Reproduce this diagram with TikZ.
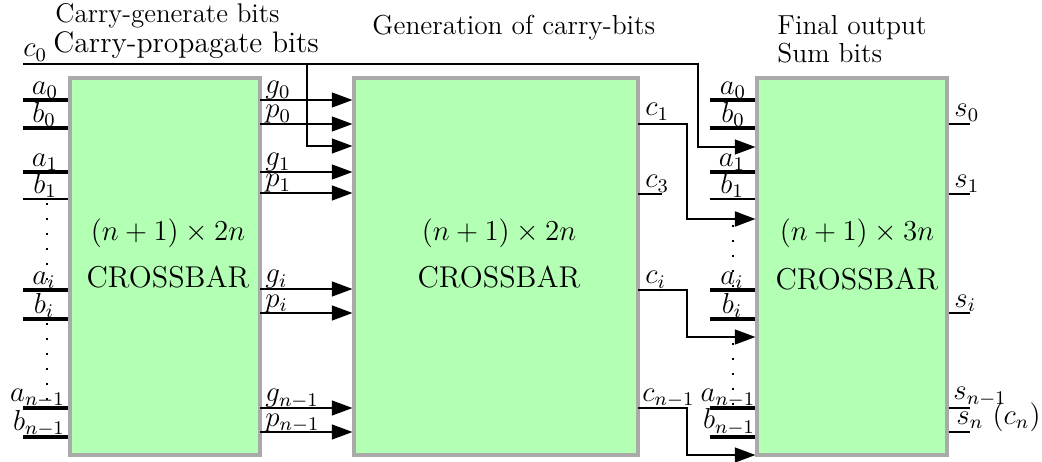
\documentclass[tikz,border=0pt]{standalone}
\usetikzlibrary{arrows.meta}
\definecolor{boxfill}{RGB}{179,255,179}
\definecolor{boxline}{RGB}{170,170,170}
\begin{document}
\begin{tikzpicture}[x=0.415pt,y=-0.415pt,
  xbar/.style={draw=boxline, fill=boxfill, line width=1.3pt, inner sep=0pt, minimum height=156.46pt},
  lab/.style={anchor=base, inner sep=0pt, font=\fontsize{11.8}{13}\selectfont},
  labl/.style={anchor=base west, inner sep=0pt, font=\fontsize{11.8}{13}\selectfont},
  title/.style={anchor=base west, inner sep=0pt, font=\fontsize{11.4}{13}\selectfont},
  mid/.style={anchor=base, inner sep=0pt, font=\fontsize{12.5}{14}\selectfont},
  arr/.style={line width=0.5pt, -{Triangle[length=8.5pt,width=6.2pt]}},
  dots/.style={line width=0.9pt, dash pattern=on 0.9pt off 5.3pt},
  outwire/.style={line width=0.85pt}]
\useasboundingbox (0,0) rectangle (1042,462);
% boxes
\node[xbar, minimum width=78.85pt] (B1) at (165,266.5) {};
\node[xbar, minimum width=117.86pt] (B2) at (496,266.5) {};
\node[xbar, minimum width=78.85pt] (B3) at (852,266.5) {};
% titles
\node[title, font=\fontsize{11.2}{13}\selectfont] (tgen) at (55,23) {Carry-generate bits};
\node[title, font=\fontsize{12.3}{14}\selectfont] (tprop) at (53,53) {Carry-propagate bits};
\node[labl] (lc0) at (23,57) {$c_0$};
\node[title] (tcar) at (372,35) {Generation of carry-bits};
\node[title] (tfin) at (777,35) {Final output};
\node[title] (tsum) at (777,63) {Sum bits};
% centre texts
\node[mid] (m1a) at (168,240) {$(n+1)\times 2n$};
\node[mid] (m1b) at (168,287) {CROSSBAR};
\node[mid] (m2a) at (499,240) {$(n+1)\times 2n$};
\node[mid] (m2b) at (499,287) {CROSSBAR};
\node[mid] (m3a) at (857,241) {$(n+1)\times 3n$};
\node[mid] (m3b) at (857,290) {CROSSBAR};
% left inputs
\foreach \n/\y/\w in {a0/100/1.45, b0/128/1.45, a1/172/1.45, b1/199/1.0, ai/290/1.45, bi/319/1.45, an/408/1.45, bn/437/1.45}{
  \coordinate (L\n) at (23,\y);
  \draw[line width=\w pt] (L\n) -- (L\n -| B1.west);
}
\node[lab] (la0) at (45,94.5) {$a_0$};
\node[lab] (lb0) at (44,122.5) {$b_0$};
\node[lab] (la1) at (45,166.5) {$a_1$};
\node[lab] (lb1) at (45,193.5) {$b_1$};
\node[lab] (lai) at (44,284.5) {$a_i$};
\node[lab] (lbi) at (44,313.5) {$b_i$};
\node[lab] (lan) at (37.5,401) {$a_{n-1}$};
\node[lab] (lbn) at (39,430) {$b_{n-1}$};
\coordinate (d1s) at (47,203); \coordinate (d1e) at (47,290);
\coordinate (d2s) at (47,323); \coordinate (d2e) at (47,408);
\draw[dots] (d1s) -- (d1e);
\draw[dots] (d2s) -- (d2e);
% g/p arrows
\foreach \n/\y in {g0/100, p0/124, g1/172, p1/193, gi/289, pi/313, gn/408, pn/432}{
  \coordinate (M\n) at (260,\y);
  \draw[arr] (M\n) -- (M\n -| B2.west);
}
\node[labl] (lg0) at (265,94) {$g_0$};
\node[labl] (lp0) at (265,118) {$p_0$};
\node[labl] (lg1) at (265,166) {$g_1$};
\node[labl] (lp1) at (265,187) {$p_1$};
\node[labl] (lgi) at (265,283) {$g_i$};
\node[labl] (lpi) at (265,307) {$p_i$};
\node[labl] (lgn) at (265,402) {$g_{n-1}$};
\node[labl] (lpn) at (265,426) {$p_{n-1}$};
% c0
\coordinate (c0s) at (23,64);
\coordinate (c0k) at (698,147);
\draw[arr] (c0s) -| (c0k) -- (c0k -| B3.west);
\coordinate (c0b) at (307,64);
\coordinate (c0bk) at (307,146);
\draw[arr] (c0b) -- (c0bk) -- (c0bk -| B2.west);
% carries
\coordinate (c1s) at (638,124); \coordinate (c1k) at (687,219);
\draw[arr, line width=0.85pt] (c1s) -| (c1k) -- (c1k -| B3.west);
\coordinate (c3s) at (638,194); \coordinate (c3e) at (662,194);
\draw[outwire] (c3s) -- (c3e);
\coordinate (cis) at (638,290); \coordinate (cik) at (687,337);
\draw[arr] (cis) -| (cik) -- (cik -| B3.west);
\coordinate (cns) at (638,408); \coordinate (cnk) at (687,455);
\draw[arr] (cns) -| (cnk) -- (cnk -| B3.west);
\node[labl] (lc1) at (645,116) {$c_1$};
\node[labl] (lc3) at (645,188) {$c_3$};
\node[labl] (lci) at (645,284) {$c_i$};
\node[labl] (lcn) at (642,401) {$c_{n-1}$};
% right inputs
\foreach \n/\y/\w in {a0/100/1.45, b0/128/1.45, a1/172/1.45, b1/199/1.0, ai/290/1.45, bi/319/1.45, an/408/1.45, bn/437/1.45}{
  \coordinate (R\n) at (710,\y);
  \draw[line width=\w pt] (R\n) -- (R\n -| B3.west);
}
\node[lab] (ra0) at (733,94.5) {$a_0$};
\node[lab] (rb0) at (733,122.5) {$b_0$};
\node[lab] (ra1) at (732,166.5) {$a_1$};
\node[lab] (rb1) at (732,193.5) {$b_1$};
\node[lab] (rai) at (732,284.5) {$a_i$};
\node[lab] (rbi) at (732,313.5) {$b_i$};
\node[lab] (ran) at (728,401) {$a_{n-1}$};
\node[lab] (rbn) at (729,429) {$b_{n-1}$};
\coordinate (d3s) at (733,225); \coordinate (d3e) at (733,290);
\coordinate (d4s) at (733,343); \coordinate (d4e) at (733,408);
\draw[dots] (d3s) -- (d3e);
\draw[dots] (d4s) -- (d4e);
% sum outputs
\foreach \n/\y in {s0/124, s1/194, si/313, sm/408, sn/432}{
  \coordinate (S\n) at (970,\y);
  \draw[outwire] (S\n -| B3.east) -- (S\n);
}
\node[labl] (ls0) at (954,117) {$s_0$};
\node[labl] (ls1) at (954,188) {$s_1$};
\node[labl] (lsi) at (954,307) {$s_i$};
\node[labl] (lsm) at (953,400) {$s_{n-1}$};
\node[labl] (lsn) at (956,424) {$s_n$ $(c_n)$};
\end{tikzpicture}
\end{document}
